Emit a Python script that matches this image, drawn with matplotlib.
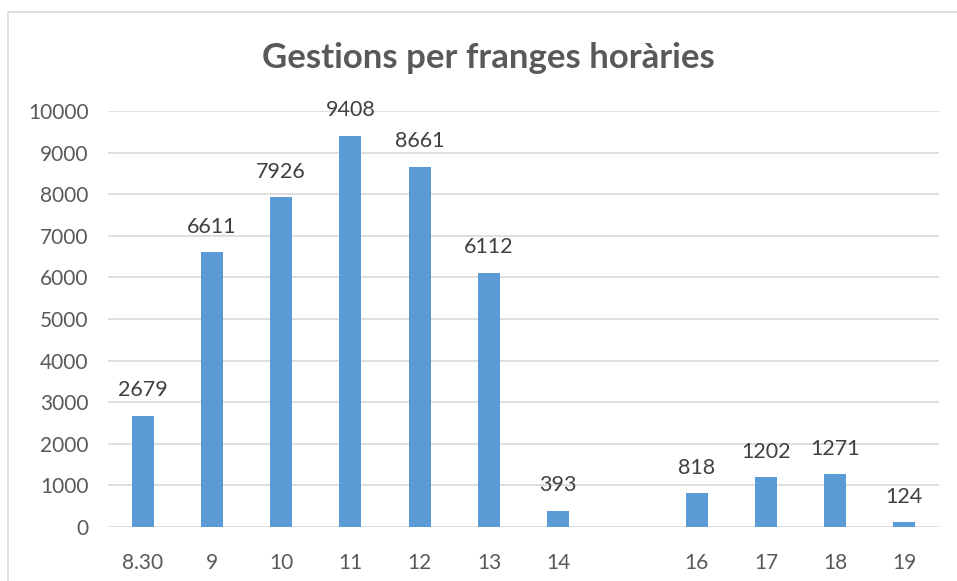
import numpy as np
import matplotlib.pyplot as plt
from matplotlib.patches import Rectangle

# Data
hores = ["8.30", "9", "10", "11", "12", "13", "14", "", "16", "17", "18", "19"]
gestions = [2679, 6611, 7926, 9408, 8661, 6112, 393, None, 818, 1202, 1271, 124]

plt.rcParams['font.family'] = ['Lato', 'DejaVu Sans']

fig = plt.figure(figsize=(9.57, 5.81), dpi=100)
ax = fig.add_axes([0.1129, 0.0929, 0.8683, 0.7160])

# chart border like the spreadsheet frame
fig.patches.append(Rectangle((8 / 957, -0.1), 1.2, 1 - 12 / 581 + 0.1,
                             transform=fig.transFigure, fill=False,
                             edgecolor="#D9D9D9", linewidth=1.2))

x = np.arange(len(hores))
for xi, v in zip(x, gestions):
    if v is None:
        continue
    ax.bar(xi, v, width=0.32, color="#5B9BD5", zorder=3)
    ax.annotate(str(v), (xi, v), xytext=(0, 11), textcoords="offset points",
                ha="center", va="bottom", fontsize=15.5, color="#404040")

ax.set_xlim(-0.5, len(hores) - 0.5)
ax.set_ylim(0, 10000)
ax.set_yticks(range(0, 10001, 1000))
ax.set_xticks(x)
ax.set_xticklabels(hores)
ax.grid(axis="y", color="#D9D9D9", linewidth=1.2, zorder=0)
for s in ax.spines.values():
    s.set_visible(False)
ax.tick_params(length=0, labelsize=15, colors="#595959")
ax.tick_params(axis="x", pad=19)
ax.tick_params(axis="y", pad=14)

fig.text(0.51, 0.9, "Gestions per franges horàries", ha="center", va="center",
         fontsize=25, fontweight="bold", color="#595959")

fig.savefig("out.png", dpi=100)
